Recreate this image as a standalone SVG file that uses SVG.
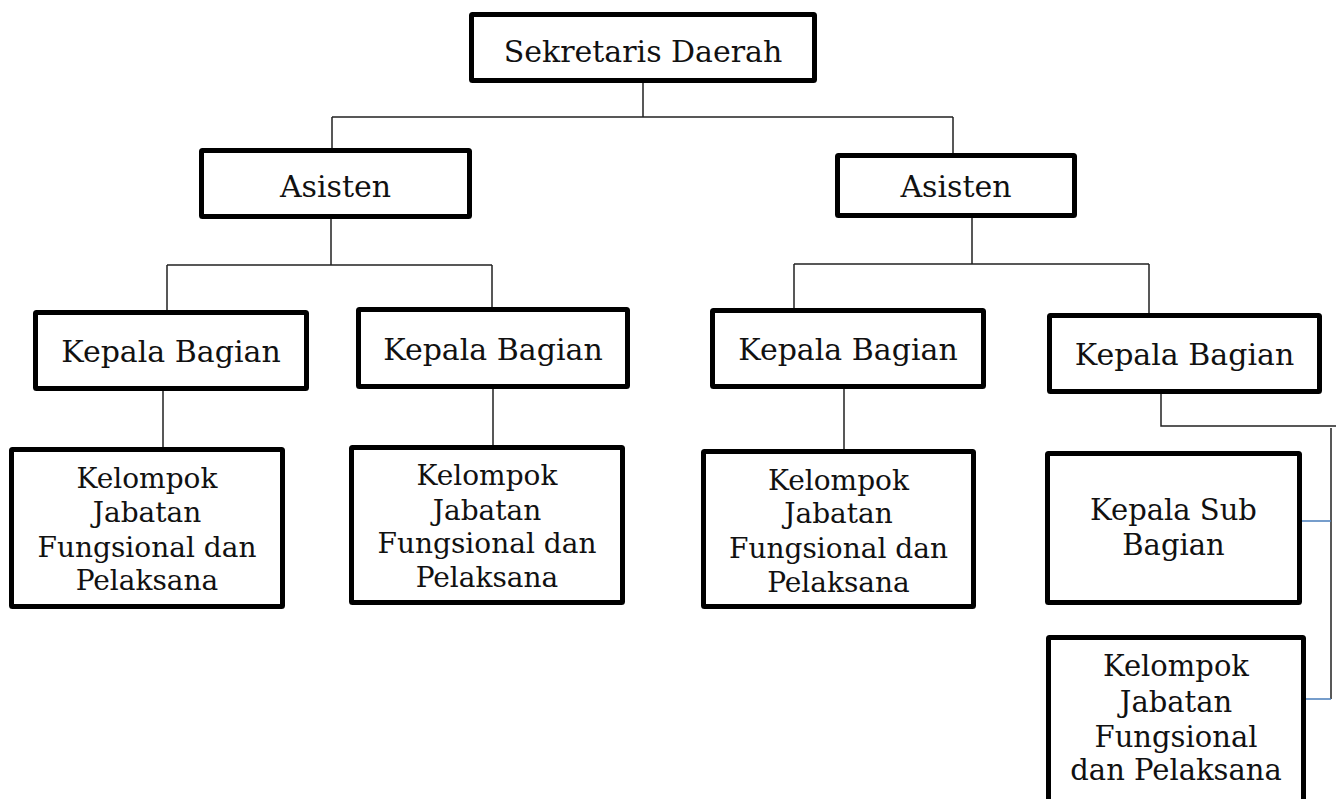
<svg xmlns="http://www.w3.org/2000/svg" width="1336" height="799" viewBox="0 0 1336 799">
  <style>
    .box { fill: #ffffff; stroke: #000000; stroke-width: 5; }
    .lbl { font-family: "DejaVu Serif", "Liberation Serif", serif; fill: #111111; text-anchor: middle; }
    .big { font-size: 30px; }
    .mid { font-size: 28px; }
    .sm { font-size: 29px; }
    .wire { fill: none; stroke: #222222; stroke-width: 1.5; }
    .wire-blue { fill: none; stroke: #4a7ebb; stroke-width: 1.5; }
  </style>
  <rect x="0" y="0" width="1336" height="799" fill="#ffffff"/>

  <!-- connectors -->
  <g id="connectors">
    <path class="wire" d="M643,83 V117 M332,117 H953 M332,117 V148 M953,117 V153"/>
    <path class="wire" d="M331,219 V265 M167,265 H492 M167,265 V310 M492,265 V307"/>
    <path class="wire" d="M972,218 V264 M794,264 H1149 M794,264 V308 M1149,264 V313"/>
    <path class="wire" d="M163,391 V447 M493,389 V445 M844,389 V449"/>
    <path class="wire" d="M1161,394 V426 H1336 M1331,428 V699"/>
    <path class="wire-blue" d="M1302,521 H1331 M1305,699 H1331"/>
  </g>

  <g id="sekda">
    <rect class="box" x="471.5" y="14.5" width="343" height="66" rx="1"/>
    <text class="lbl big" x="643" y="62">Sekretaris Daerah</text>
  </g>

  <g id="asisten-1">
    <rect class="box" x="201.5" y="150.5" width="268" height="66" rx="1"/>
    <text class="lbl big" x="335.5" y="197">Asisten</text>
  </g>

  <g id="asisten-2">
    <rect class="box" x="837.5" y="155.5" width="237" height="60" rx="1"/>
    <text class="lbl big" x="956" y="197">Asisten</text>
  </g>

  <g id="kabag-1">
    <rect class="box" x="35.5" y="312.5" width="271" height="76" rx="1"/>
    <text class="lbl big" x="171" y="362">Kepala Bagian</text>
  </g>

  <g id="kabag-2">
    <rect class="box" x="358.5" y="309.5" width="269" height="77" rx="1"/>
    <text class="lbl big" x="493" y="360">Kepala Bagian</text>
  </g>

  <g id="kabag-3">
    <rect class="box" x="712.5" y="310.5" width="271" height="76" rx="1"/>
    <text class="lbl big" x="848" y="360">Kepala Bagian</text>
  </g>

  <g id="kabag-4">
    <rect class="box" x="1049.5" y="315.5" width="270" height="76" rx="1"/>
    <text class="lbl big" x="1184.5" y="365">Kepala Bagian</text>
  </g>

  <g id="jf-1">
    <rect class="box" x="11.5" y="449.5" width="271" height="157" rx="1"/>
    <text class="lbl mid" x="147" y="488">Kelompok</text>
    <text class="lbl mid" x="147" y="522">Jabatan</text>
    <text class="lbl mid" x="147" y="557">Fungsional dan</text>
    <text class="lbl mid" x="147" y="590">Pelaksana</text>
  </g>

  <g id="jf-2">
    <rect class="box" x="351.5" y="447.5" width="271" height="155" rx="1"/>
    <text class="lbl mid" x="487" y="485">Kelompok</text>
    <text class="lbl mid" x="487" y="520">Jabatan</text>
    <text class="lbl mid" x="487" y="553">Fungsional dan</text>
    <text class="lbl mid" x="487" y="587">Pelaksana</text>
  </g>

  <g id="jf-3">
    <rect class="box" x="703.5" y="451.5" width="270" height="155" rx="1"/>
    <text class="lbl mid" x="838.5" y="490">Kelompok</text>
    <text class="lbl mid" x="838.5" y="523">Jabatan</text>
    <text class="lbl mid" x="838.5" y="558">Fungsional dan</text>
    <text class="lbl mid" x="838.5" y="592">Pelaksana</text>
  </g>

  <g id="kasubag">
    <rect class="box" x="1047.5" y="453.5" width="252" height="149" rx="1"/>
    <text class="lbl sm" x="1173.5" y="520">Kepala Sub</text>
    <text class="lbl sm" x="1173.5" y="555">Bagian</text>
  </g>

  <g id="jf-4">
    <rect class="box" x="1048.5" y="637.5" width="255" height="180" rx="1"/>
    <text class="lbl sm" x="1176" y="676">Kelompok</text>
    <text class="lbl sm" x="1176" y="712">Jabatan</text>
    <text class="lbl sm" x="1176" y="747">Fungsional</text>
    <text class="lbl sm" x="1176" y="780">dan Pelaksana</text>
  </g>
</svg>
